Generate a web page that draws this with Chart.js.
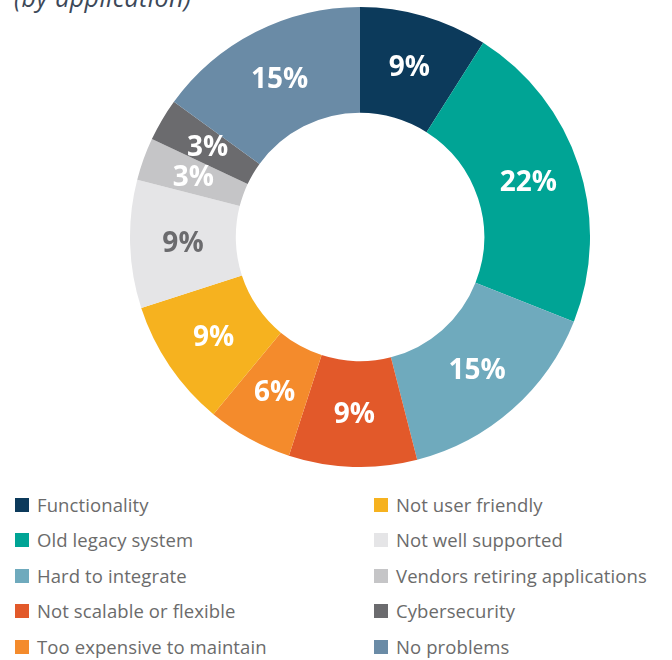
<!DOCTYPE html>
<html>
<head>
<meta charset="utf-8">
<script src="https://cdn.jsdelivr.net/npm/chart.js@4"></script>
<style>
  html, body { margin:0; padding:0; background:#fff; width:672px; height:660px; overflow:hidden; }
  #title { position:absolute; left:14px; top:-18px; font-family:"Open Sans", sans-serif; font-style:italic; font-size:25px; color:#3c4858; white-space:nowrap; line-height:30px; letter-spacing:0.4px; }
  #wrap { position:absolute; left:130px; top:7px; width:460px; height:460px; }
  .leg { position:absolute; font-family:"Open Sans", sans-serif; font-size:18.5px; color:#6b6b6b; white-space:nowrap; }
  .leg .sw { position:absolute; left:0; top:50%; width:14px; height:14px; margin-top:-7px; }
  .leg .tx { position:absolute; left:22px; top:50%; transform:translateY(-50%); line-height:22px; letter-spacing:0.1px; }
</style>
</head>
<body>
<div id="title">(by application)</div>
<div id="wrap"><canvas id="c"></canvas></div>
<div id="legend"></div>
<script>
const categories = [
  "Functionality",
  "Old legacy system",
  "Hard to integrate",
  "Not scalable or flexible",
  "Too expensive to maintain",
  "Not user friendly",
  "Not well supported",
  "Vendors retiring applications",
  "Cybersecurity",
  "No problems"
];
const values = [9, 22, 15, 9, 6, 9, 9, 3, 3, 15];
const colors = ["#0c3a5b", "#00a495", "#6faabd", "#e2592a", "#f48b2c", "#f6b21f", "#e5e5e7", "#c5c5c7", "#6b6b6e", "#6a8ba6"];
const labelColors = ["#fff", "#fff", "#fff", "#fff", "#fff", "#fff", "#6b6b6e", "#fff", "#fff", "#fff"];

const labelPlugin = {
  id: "sliceLabels",
  afterDatasetsDraw(chart) {
    const ctx = chart.ctx;
    const meta = chart.getDatasetMeta(0);
    ctx.save();
    ctx.font = "bold 28px 'Open Sans', sans-serif";
    ctx.textAlign = "center";
    ctx.textBaseline = "middle";
    meta.data.forEach((arc, i) => {
      const p = arc.getCenterPoint();
      ctx.fillStyle = labelColors[i];
      ctx.fillText(values[i] + "%", p.x, p.y + 1);
    });
    ctx.restore();
  }
};

new Chart(document.getElementById("c"), {
  type: "doughnut",
  data: {
    labels: categories,
    datasets: [{
      data: values,
      backgroundColor: colors,
      borderWidth: 0,
      hoverOffset: 0
    }]
  },
  options: {
    responsive: true,
    maintainAspectRatio: false,
    animation: false,
    cutout: "54%",
    layout: { padding: 0 },
    plugins: { legend: { display: false }, tooltip: { enabled: false } }
  },
  plugins: [labelPlugin]
});

// HTML legend in two columns built from the arrays
const legend = document.getElementById("legend");
const rowY = [505, 540, 576, 611, 647];
categories.forEach((name, i) => {
  const col = i < 5 ? 0 : 1;
  const row = i % 5;
  const d = document.createElement("div");
  d.className = "leg";
  d.style.left = (col === 0 ? 15 : 374) + "px";
  d.style.top = (rowY[row] - 10) + "px";
  d.style.height = "20px";
  d.style.width = "300px";
  d.innerHTML = '<span class="sw" style="background:' + colors[i] + '"></span><span class="tx"></span>';
  d.querySelector(".tx").textContent = name;
  legend.appendChild(d);
});
</script>
</body>
</html>
